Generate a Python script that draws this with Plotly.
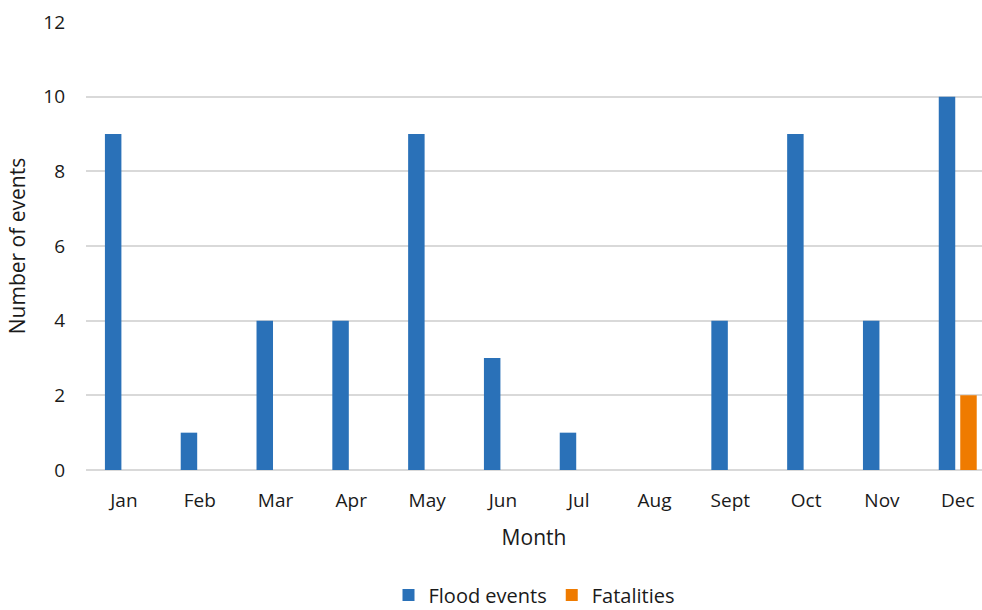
import plotly.graph_objects as go

months = ["Jan", "Feb", "Mar", "Apr", "May", "Jun", "Jul", "Aug", "Sept", "Oct", "Nov", "Dec"]
flood_events = [9, 1, 4, 4, 9, 3, 1, 0, 4, 9, 4, 10]
fatalities = [0, 0, 0, 0, 0, 0, 0, 0, 0, 0, 0, 2]
y_ticks = [0, 2, 4, 6, 8, 10, 12]

FONT = "Open Sans, Roboto, Liberation Sans, sans-serif"

fig = go.Figure()
fig.add_trace(go.Bar(x=months, y=flood_events, name="Flood events",
                     marker=dict(color="#2A71B8", line=dict(width=0))))
fig.add_trace(go.Bar(x=months, y=fatalities, name="Fatalities",
                     marker=dict(color="#EF7B00", line=dict(width=0))))

fig.update_layout(
    width=982, height=610,
    paper_bgcolor="white", plot_bgcolor="white",
    margin=dict(l=86, r=0, t=22, b=140, autoexpand=False),
    barmode="group", bargap=0.433, bargroupgap=0.233,
    font=dict(family=FONT, size=19, color="#1a1a1a"),
    showlegend=True,
    legend=dict(orientation="h", x=0.5, xanchor="center", y=-0.279, yanchor="middle",
                font=dict(size=20), itemwidth=30, traceorder="normal"),
    xaxis=dict(
        range=[-0.5, 11.32], showgrid=False, showline=False, zeroline=False,
        automargin=False,
        ticks="", tickfont=dict(size=19), ticklabelstandoff=17,
        title=dict(text="Month", font=dict(size=21), standoff=18),
    ),
    yaxis=dict(
        range=[0, 12], tickvals=y_ticks, showgrid=True, gridcolor="#D9D9D9", gridwidth=1.5,
        zeroline=True, zerolinecolor="#D9D9D9", zerolinewidth=1.5, showline=False,
        automargin=False,
        ticks="", tickfont=dict(size=19), ticklabelstandoff=20,
        title=dict(text="Number of events", font=dict(size=21), standoff=11),
    ),
)

fig.write_html("out.html")
